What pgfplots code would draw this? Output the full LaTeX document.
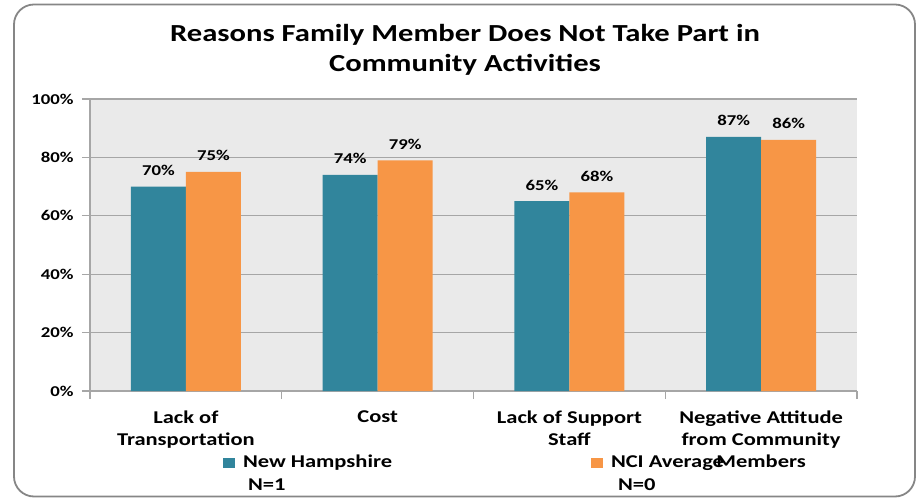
\documentclass[border=0pt]{standalone}
\usepackage{pgfplots}
\pgfplotsset{compat=1.18}
\usepackage{fontspec}
\setmainfont{Carlito}[FakeStretch=1.25]
\definecolor{nhteal}{HTML}{31859C}
\definecolor{nciorange}{HTML}{F79646}
\definecolor{plotbg}{HTML}{EAEAEA}
\definecolor{gridgray}{HTML}{A6A6A6}
\definecolor{framegray}{HTML}{868686}

\begin{document}
\begin{tikzpicture}[x=1pt,y=1pt]
\useasboundingbox (0,0) rectangle (921,498);
\draw[framegray, line width=1.8pt, rounded corners=20pt] (14,1.5) rectangle (915,493.5);
% title, two lines
\node[anchor=base, font=\bfseries\fontsize{24.5}{29}\selectfont] at (465,456) {Reasons Family Member Does Not Take Part in};
\node[anchor=base, font=\bfseries\fontsize{24.5}{29}\selectfont] at (465,426) {Community Activities};

\begin{axis}[
  at={(90pt,107pt)}, anchor=south west,
  scale only axis, width=767pt, height=292pt,
  xmin=0.5, xmax=4.5, ymin=0, ymax=100,
  ybar=0pt, bar width=55pt,
  axis background/.style={fill=plotbg},
  separate axis lines,
  axis x line*=bottom, axis y line*=left,
  axis line style={gridgray, line width=1.2pt},
  tick style={gridgray, line width=1.2pt},
  tick align=outside, major tick length=8pt,
  /pgf/number format/assume math mode=true,
  ytick={0,20,...,100},
  yticklabel={\pgfmathprintnumber{\tick}\%},
  yticklabel style={font=\bfseries\fontsize{15}{15}\selectfont, xshift=-5pt},
  ymajorgrids, grid style={gridgray, line width=1.2pt},
  xtick={0.5,1.5,2.5,3.5,4.5}, xticklabels={},
  extra x ticks={1,2,3,4},
  extra x tick labels={Lack of\\Transportation, Cost, Lack of Support\\Staff, Negative Attitude\\from Community\\Members},
  extra x tick style={major tick length=0pt, tick style={draw=none}, grid=none,
    xticklabel style={font=\bfseries\fontsize{18}{22}\selectfont, align=center, yshift=-16pt}},
  nodes near coords={\pgfmathprintnumber{\pgfplotspointmeta}\%},
  nodes near coords style={font=\bfseries\fontsize{15}{15}\selectfont, text=black, anchor=base, yshift=11pt},
  legend columns=2,
  legend style={draw=none, fill=none, inner sep=0pt, outer sep=0pt,
    at={(axis description cs:0.1734,-0.212)}, anchor=north west,
    font=\bfseries\fontsize{18}{23}\selectfont,
    cells={anchor=base west, inner sep=0pt}},
  legend image code/.code={\fill[#1] (0pt,0pt) rectangle (12pt,10pt); \path (18pt,0pt);},
]
\addplot[fill=nhteal, draw=none] coordinates {(1,70) (2,74) (3,65) (4,87)};
\addplot[fill=nciorange, draw=none] coordinates {(1,75) (2,79) (3,68) (4,86)};
\addlegendentry{\parbox[t]{346pt}{New Hampshire\\\hspace*{5pt}N=1}}
\addlegendentry{\parbox[t]{200pt}{NCI Average\\\hspace*{7pt}N=0}}
\end{axis}
\end{tikzpicture}
\end{document}
